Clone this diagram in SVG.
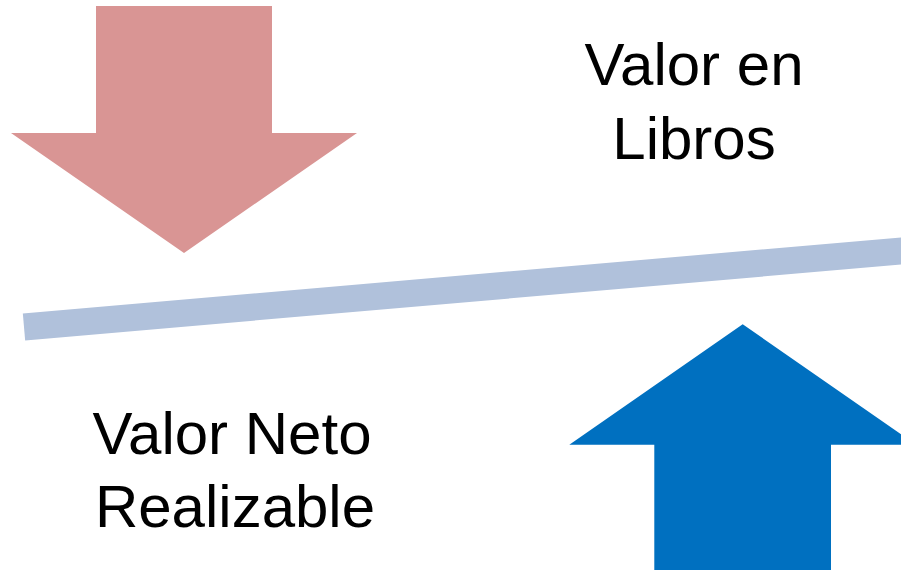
<svg xmlns="http://www.w3.org/2000/svg" width="901" height="570" viewBox="0 0 901 570">
<style>
.t{font-family:"Liberation Sans",Arial,sans-serif;font-size:60px;fill:#000;text-anchor:middle}
</style>
<rect width="901" height="570" fill="#fff"/>
<g id="arrow-down">
<polygon points="96,6 272,6 272,133 357,133 184,253 11,133 96,133" fill="#D99594"/>
</g>
<g id="balance-line">
<line x1="24" y1="327" x2="910" y2="250.2" stroke="#B0C1DB" stroke-width="27"/>
</g>
<g id="arrow-up">
<polygon points="742.7,324.3 916,444.7 831,444.7 831,575 654.3,575 654.3,444.7 569.3,444.7" fill="#0070C0"/>
</g>
<g id="label-libros">
<text class="t" x="694" y="85">Valor en</text>
<text class="t" x="694" y="159">Libros</text>
</g>
<g id="label-vnr">
<text class="t" x="232" y="454">Valor Neto</text>
<text class="t" x="235" y="527">Realizable</text>
</g>
</svg>
